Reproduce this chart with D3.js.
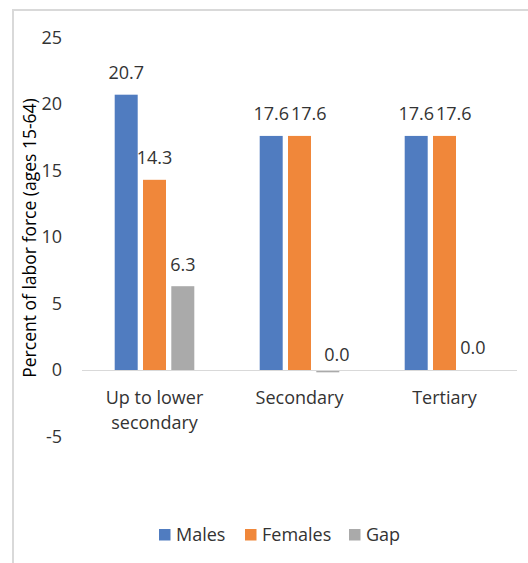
<!DOCTYPE html>
<html><head><meta charset="utf-8">
<script src="https://cdn.jsdelivr.net/npm/d3@7"></script>
<style>body{margin:0;background:#fff;}svg{display:block;font-family:"Open Sans",sans-serif;}</style>
</head><body>
<script>
const categories = [["Up to lower", "secondary"], ["Secondary"], ["Tertiary"]];
const seriesNames = ["Males", "Females", "Gap"];
const males = [20.7, 17.6, 17.6];
const females = [14.3, 17.6, 17.6];
const gap = [6.3, -0.1, 0.0];
const gapLabels = ["6.3", "0.0", "0.0"];
const yTicks = [-5, 0, 5, 10, 15, 20, 25];
const colors = ["#507cc0", "#f0873a", "#aaaaaa"];
const yTitle = "Percent of labor force (ages 15-64)";

const W = 528, H = 563;
const svg = d3.select("body").append("svg").attr("width", W).attr("height", H);
const txtCol = "#333333";

// frame
svg.append("path").attr("d", `M13,${H} V10 H${W}`).attr("fill", "none")
  .attr("stroke", "#d9d9d9").attr("stroke-width", 2);

const x0 = d3.scaleBand().domain(d3.range(categories.length)).range([82, 517]);
const y = d3.scaleLinear().domain([-5, 25]).range([436.5, 37.5]);
const barW = 23, barStep = 28.3;
const series = [males, females, gap];

// zero line
svg.append("line").attr("x1", 82).attr("x2", 517).attr("y1", y(0) + 0.5).attr("y2", y(0) + 0.5)
  .attr("stroke", "#d9d9d9").attr("stroke-width", 1);

// y ticks
svg.append("g").selectAll("text").data(yTicks).join("text")
  .attr("x", 62).attr("y", d => y(d)).attr("dy", "0.35em").attr("text-anchor", "end")
  .attr("font-size", 18).attr("fill", txtCol).text(d => String(d));

// y title
svg.append("text").attr("transform", `translate(30,${238}) rotate(-90)`)
  .attr("text-anchor", "middle").attr("dy", "0.35em").attr("font-size", 17.5).attr("fill", "#000").text(yTitle);

// bars
series.forEach((vals, si) => {
  vals.forEach((v, ci) => {
    const bx = x0(ci) + (x0.bandwidth() - (barW + 2 * barStep)) / 2 + si * barStep;
    const top = Math.min(y(v), y(0));
    const h = Math.abs(y(v) - y(0));
    svg.append("rect").attr("x", bx).attr("y", v < 0 ? y(0) + 1 : top).attr("width", barW)
      .attr("height", Math.max(h, 0)).attr("fill", colors[si]);
  });
});

// labels
categories.forEach((c, ci) => {
  let prevEnd = -Infinity, prevY = null;
  series.forEach((vals, si) => {
    const v = vals[ci];
    const txt = si === 2 ? gapLabels[ci] : d3.format(".1f")(v);
    const bx = x0(ci) + (x0.bandwidth() - (barW + 2 * barStep)) / 2 + si * barStep + barW / 2;
    const t = svg.append("text").attr("font-size", 18).attr("fill", txtCol)
      .attr("text-anchor", "start").text(txt);
    const w = t.node().getComputedTextLength();
    let lx = bx - w / 2;
    let ly = y(Math.max(v, 0)) - 22;
    if (prevY !== null && Math.abs(prevY - ly) < 15 && lx < prevEnd + 2) lx = prevEnd + 2;
    if (v < 0) { ly = y(0) - 15; lx += 9; }
    t.attr("x", lx).attr("y", ly).attr("dy", "0.35em");
    prevEnd = lx + w; prevY = ly;
  });
});

// category labels
categories.forEach((lines, ci) => {
  const cx = x0(ci) + x0.bandwidth() / 2;
  lines.forEach((ln, li) => {
    svg.append("text").attr("x", cx).attr("y", 398 + li * 25).attr("dy", "0.35em")
      .attr("text-anchor", "middle").attr("font-size", 18).attr("fill", txtCol).text(ln);
  });
});

// legend
const legendX = [159, 245, 349];
seriesNames.forEach((n, i) => {
  svg.append("rect").attr("x", legendX[i]).attr("y", 529).attr("width", 11.5).attr("height", 11.5).attr("fill", colors[i]);
  svg.append("text").attr("x", legendX[i] + 17).attr("y", 535).attr("dy", "0.35em")
    .attr("font-size", 18).attr("fill", txtCol).text(n);
});
</script>
</body></html>
